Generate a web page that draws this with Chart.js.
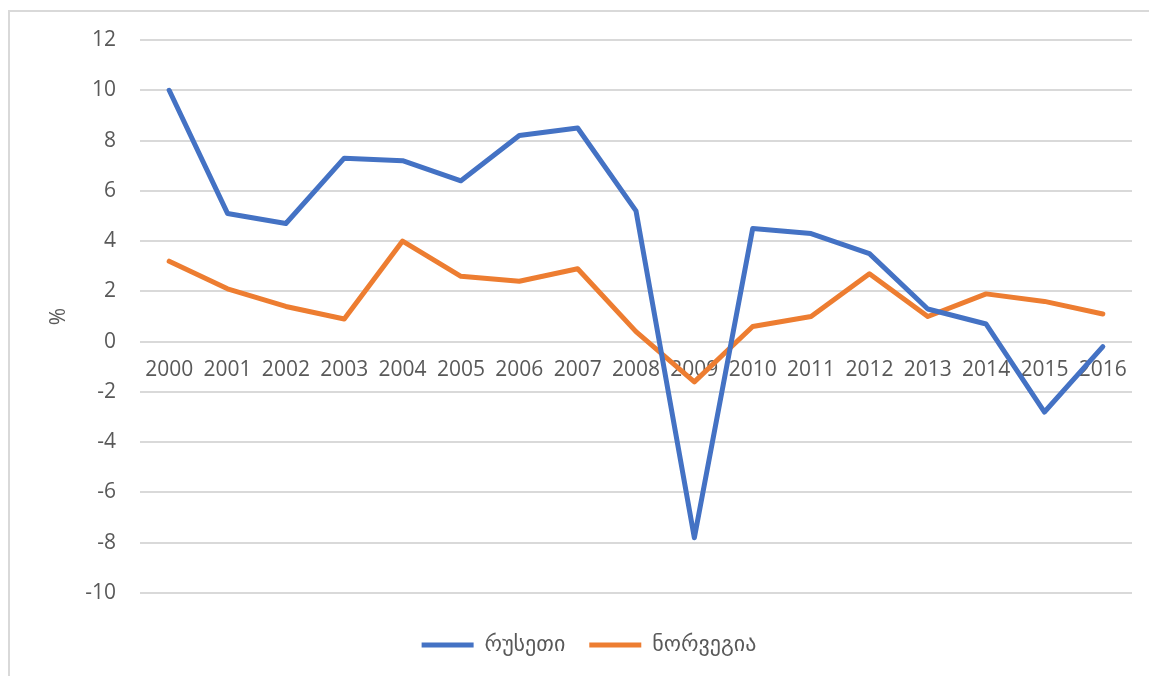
<!DOCTYPE html>
<html>
<head>
<meta charset="utf-8">
<script src="https://cdn.jsdelivr.net/npm/chart.js@4/dist/chart.umd.min.js"></script>
<style>
  html, body { margin: 0; padding: 0; background: #fff; overflow: hidden; }
  .frame {
    position: absolute; left: 8px; top: 10px;
    width: 1300px; height: 800px;
    border: 2px solid #d9d9d9;
  }
  .chart { position: absolute; left: 0; top: 0; width: 1149px; height: 676px; }
</style>
</head>
<body>
<div class="frame"></div>
<div class="chart"><canvas id="gdpChart"></canvas></div>
<script>
  // years on the category axis
  const years = ['2000', '2001', '2002', '2003', '2004', '2005', '2006', '2007', '2008',
    '2009', '2010', '2011', '2012', '2013', '2014', '2015', '2016'];

  // real GDP growth, %
  const russia = [10.0, 5.1, 4.7, 7.3, 7.2, 6.4, 8.2, 8.5, 5.2, -7.8, 4.5, 4.3, 3.5, 1.3, 0.7, -2.8, -0.2];
  const norway = [3.2, 2.1, 1.4, 0.9, 4.0, 2.6, 2.4, 2.9, 0.4, -1.6, 0.6, 1.0, 2.7, 1.0, 1.9, 1.6, 1.1];

  const seriesNames = ['რუსეთი', 'ნორვეგია'];
  const yTicks = { min: -10, max: 12, step: 2 };

  const blue = '#4472c4';
  const orange = '#ed7d31';
  const textGrey = '#595959';
  const gridGrey = '#d9d9d9';

  function lineSet(label, data, color) {
    return {
      label: label,
      data: data,
      borderColor: color,
      backgroundColor: color,
      borderWidth: 5,
      borderCapStyle: 'round',
      borderJoinStyle: 'round',
      tension: 0,
      pointRadius: 0,
      pointHoverRadius: 0
    };
  }

  const ctx = document.getElementById('gdpChart').getContext('2d');
  new Chart(ctx, {
    type: 'line',
    data: {
      labels: years,
      datasets: [
        lineSet(seriesNames[0], russia, blue),
        lineSet(seriesNames[1], norway, orange)
      ]
    },
    options: {
      responsive: true,
      maintainAspectRatio: false,
      animation: false,
      layout: { padding: { left: 46, right: 17, top: 40, bottom: 10 } },
      plugins: {
        tooltip: { enabled: false },
        legend: {
          position: 'bottom',
          // blank title only pushes the legend row down a bit
          title: { display: true, text: ' ', font: { size: 10 }, padding: { top: 0, bottom: 5 } },
          labels: {
            font: { family: "'DejaVu Sans', sans-serif", size: 22 },
            color: textGrey,
            boxWidth: 52,
            boxHeight: 5,
            padding: 24,
            // plain filled bar, no outline
            generateLabels: (chart) => {
              const items = Chart.defaults.plugins.legend.labels.generateLabels(chart);
              items.forEach(it => { it.lineWidth = 0; it.strokeStyle = 'transparent'; });
              return items;
            }
          }
        }
      },
      scales: {
        x: {
          type: 'category',
          position: { y: 0 },
          offset: true,
          grid: { display: false, drawTicks: false },
          border: { display: false },
          ticks: {
            color: textGrey,
            font: { family: "'Open Sans', sans-serif", size: 21 },
            padding: 16,
            maxRotation: 0,
            autoSkip: false
          }
        },
        y: {
          min: yTicks.min,
          max: yTicks.max,
          afterFit: (scale) => { scale.width = 94; },
          grid: { color: gridGrey, lineWidth: 2, drawTicks: false },
          border: { display: false },
          ticks: {
            stepSize: yTicks.step,
            color: textGrey,
            font: { family: "'Open Sans', sans-serif", size: 21 },
            padding: 24
          },
          title: {
            display: true,
            text: '%',
            color: textGrey,
            font: { family: "'Open Sans', sans-serif", size: 21 },
            padding: { top: 0, bottom: 0 }
          }
        }
      }
    }
  });
</script>
</body>
</html>
